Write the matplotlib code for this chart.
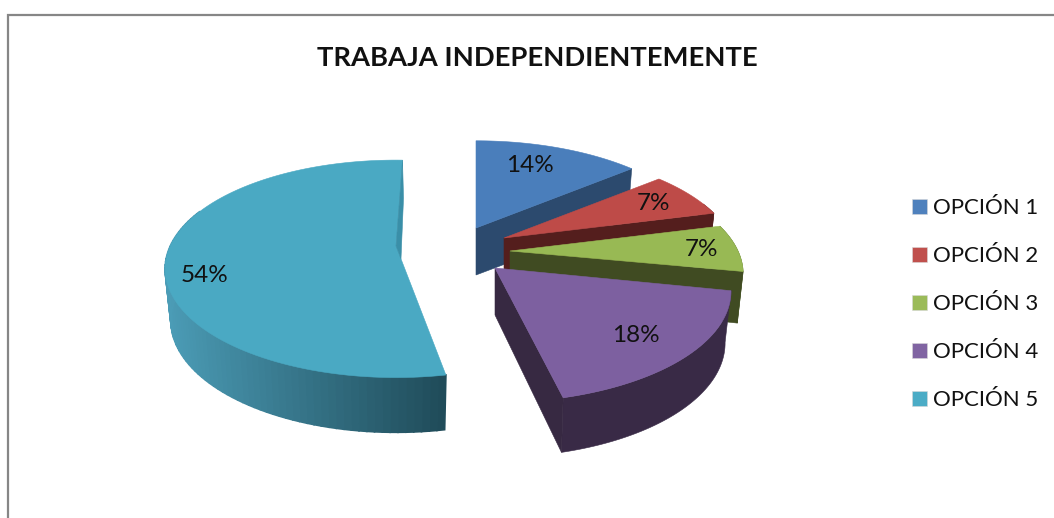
import numpy as np
import matplotlib
matplotlib.use("Agg")
import matplotlib.pyplot as plt
from matplotlib.patches import Polygon, Patch

title = "TRABAJA INDEPENDIENTEMENTE"
categories = ["OPCIÓN 1", "OPCIÓN 2", "OPCIÓN 3", "OPCIÓN 4", "OPCIÓN 5"]
values = [14, 7, 7, 18, 54]

top_colors = ["#4a7ebb", "#be4b48", "#98b954", "#7d60a0", "#4aa9c3"]
legend_colors = ["#4f81bd", "#c0504d", "#9bbb59", "#8064a2", "#4bacc6"]
side_colors = ["#2c4a6e", "#541e1d", "#404b22", "#372942", "#3a8fa8"]
outer_colors = ["#2c4a6e", "#541e1d", "#4d6325", "#392a46", None]

# layout (pixels)
apex = [(476, 228), (504, 238), (510, 251), (495, 268), (396, 246)]
scale = [1.005, 1, 1, 1.012, 0.99]
angle_adjust = [(0, 0), (0, 0), (0, 0), (1, 0.8), (4.3, 2)]
label_pos = [(530, 165), (654, 204), (702, 250), (636, 336), (205, 275)]
A, B, P, DEPTH, SHRINK = 228, 105, 0.21, 51, 0.975

fig = plt.figure(figsize=(10.54, 5.18), dpi=100)
ax = fig.add_axes([0, 0, 1, 1])
ax.set_xlim(0, 1054)
ax.set_ylim(518, 0)
ax.axis("off")
FONT = "Lato"

def project(theta):
    u, v = np.sin(theta), np.cos(theta)
    w = 1 + P * v
    return A * u / w, -B * v / w, DEPTH / w ** 0.3

def poly(pts, color, z, lw=0.4):
    ax.add_patch(Polygon(pts, closed=True, facecolor=color, edgecolor=color, lw=lw, zorder=z))

def lerp(c0, c1, t):
    a = np.array(matplotlib.colors.to_rgb(c0))
    b = np.array(matplotlib.colors.to_rgb(c1))
    return tuple(a + (b - a) * t)

edges = np.cumsum([0] + values) / sum(values) * 2 * np.pi
order = [4, 0, 1, 2, 3]
for i, idx in enumerate(order):
    base = 10 + i * 5
    ox, oy = apex[idx]
    t0 = edges[idx] + np.radians(angle_adjust[idx][0])
    t1 = edges[idx + 1] + np.radians(angle_adjust[idx][1])
    th = np.linspace(t0, t1, 120)
    x, y, d = project(th)
    x, y = x * scale[idx], y * scale[idx]
    tx, ty = ox + x, oy + y
    lx, ly = ox + x * SHRINK, oy + y + d
    vis = np.cos(th) <= 0.35
    if idx == 4:
        # gradient along the front wall, one strip per angle step
        for k in range(len(th) - 1):
            if not vis[k]:
                continue
            frac = np.clip((tx[k] - 165) / (445 - 165), 0, 1)
            col = lerp("#4b9cb6", "#204c5a", frac)
            poly([(tx[k], ty[k]), (tx[k + 1], ty[k + 1]), (lx[k + 1], ly[k + 1]), (lx[k], ly[k])], col, base, lw=1.2)
    elif vis.any():
        poly(list(zip(np.r_[tx[vis], lx[vis][::-1]], np.r_[ty[vis], ly[vis][::-1]])), outer_colors[idx], base)
    # radial side face
    if idx != 4:
        poly([(ox, oy), (tx[-1], ty[-1]), (lx[-1], ly[-1]), (ox, oy + 47)], side_colors[idx], base + 1)
    # top face
    poly(list(zip(np.r_[ox, tx], np.r_[oy, ty])), top_colors[idx], base + 2)
    if idx == 4:
        poly([(ox, oy), (tx[-1], ty[-1]), (tx[-1] + 1, ty[-1] + 38),
              (ox + 0.1 * (tx[0] - ox), oy + 0.1 * (ty[0] - oy))], side_colors[idx], base + 3)

for v, (px, py) in zip(values, label_pos):
    ax.text(px, py, f"{v}%", ha="center", va="center", fontsize=17.5, color="#111111",
            family=FONT, zorder=60)

ax.text(537, 57.5, title, ha="center", va="center", fontsize=19.7, fontweight="bold",
        color="#111111", family=FONT)

# chart frame
ax.plot([8, 8, 1054], [518, 14.5, 14.5], color="#868686", lw=1.6, solid_joinstyle="miter", zorder=1)

handles = [Patch(facecolor=c, edgecolor="#d8d8d8", lw=0.4) for c in legend_colors]
leg = ax.legend(handles, categories, loc="center left", bbox_to_anchor=(912 / 1054, 1 - 304.5 / 518),
                frameon=False, prop={"family": FONT, "size": 16}, handlelength=0.68, handleheight=0.68,
                handletextpad=0.27, labelspacing=1.26, borderpad=0, borderaxespad=0)
for t in leg.get_texts():
    t.set_color("#111111")

fig.savefig("out.png", dpi=100)
